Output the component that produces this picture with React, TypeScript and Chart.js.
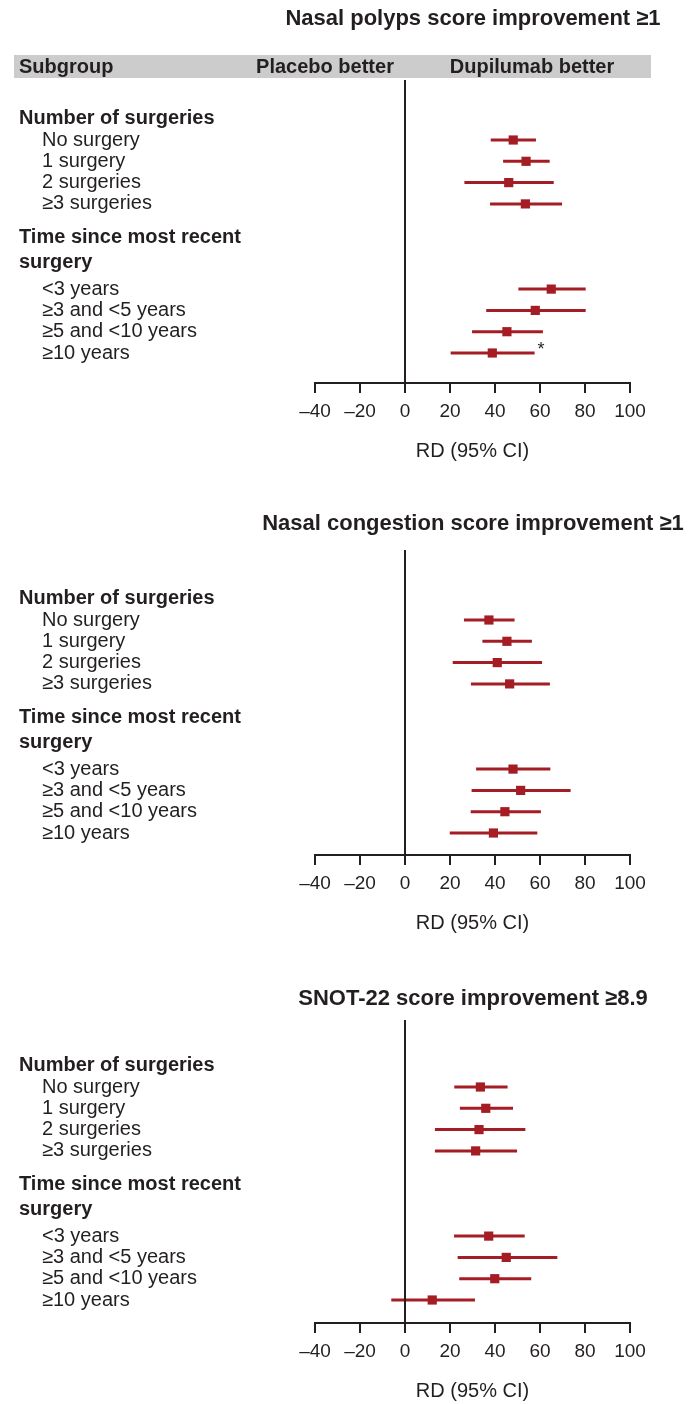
import React, { useEffect, useRef } from "react";
import { Chart, registerables } from "chart.js";

Chart.register(...registerables);

// ---------- data ----------
const groupHeaders = ["Number of surgeries", "Time since most recent", "surgery"];
const subgroupLabels = [
  "No surgery",
  "1 surgery",
  "2 surgeries",
  "≥3 surgeries",
  "<3 years",
  "≥3 and <5 years",
  "≥5 and <10 years",
  "≥10 years",
];
const xTicks = [-40, -20, 0, 20, 40, 60, 80, 100];

const panelTitles = [
  "Nasal polyps score improvement ≥1",
  "Nasal congestion score improvement ≥1",
  "SNOT-22 score improvement ≥8.9",
];

const polypsRD = [48.1, 53.8, 46.1, 53.5, 65.0, 57.9, 45.3, 38.8];
const polypsLower = [38.1, 43.6, 26.4, 37.8, 50.4, 36.1, 29.8, 20.3];
const polypsUpper = [58.2, 64.3, 66.1, 69.8, 80.3, 80.3, 61.3, 57.6];
const polypsNotes = ["", "", "", "", "", "", "", "*"];

const congestionRD = [37.3, 45.3, 41.0, 46.5, 48.0, 51.4, 44.4, 39.3];
const congestionLower = [26.2, 34.4, 21.2, 29.3, 31.6, 29.6, 29.2, 19.9];
const congestionUpper = [48.7, 56.4, 60.9, 64.4, 64.6, 73.6, 60.4, 58.8];
const congestionNotes = ["", "", "", "", "", "", "", ""];

const snotRD = [33.5, 35.9, 32.9, 31.4, 37.2, 45.0, 39.9, 12.1];
const snotLower = [21.9, 24.4, 13.3, 13.3, 21.8, 23.4, 24.1, -6.1];
const snotUpper = [45.6, 48.0, 53.5, 49.8, 53.2, 67.7, 56.1, 31.1];
const snotNotes = ["", "", "", "", "", "", "", ""];

const headerBar = ["Subgroup", "Placebo better", "Dupilumab better"];
const axisTitle = "RD (95% CI)";

// ---------- style / layout ----------
const FONT = '"Liberation Sans", Arial, Helvetica, sans-serif';
const TEXT = "#231f20";
const RED = "#a51d24";
const AXIS = "#231f20";
const W = 700;
const X_LEFT = 315;
const X_RIGHT = 630;
const ROW_H = 21.3;
const AXIS_BOX = 80;

type PanelLayout = {
  canvasTop: number;
  titleY: number;
  zeroTop: number;
  firstRowY: number;
  axisY: number;
  bar: boolean;
};

const layouts: PanelLayout[] = [
  { canvasTop: 0, titleY: 19, zeroTop: 80, firstRowY: 140, axisY: 383, bar: true },
  { canvasTop: 470, titleY: 524, zeroTop: 550, firstRowY: 620, axisY: 855, bar: false },
  { canvasTop: 940, titleY: 999, zeroTop: 1020, firstRowY: 1087, axisY: 1323, bar: false },
];

// row index of each subgroup (4 in the first group, gap for the two-line header, 4 in the second)
const rowIndex = subgroupLabels.map((_, i) => (i < 4 ? i : i + 3));
const headerRows = [-1.03, 4.6, 5.77];

type PanelData = {
  title: string;
  rd: number[];
  lo: number[];
  hi: number[];
  notes: string[];
};

const panels: PanelData[] = [
  { title: panelTitles[0], rd: polypsRD, lo: polypsLower, hi: polypsUpper, notes: polypsNotes },
  { title: panelTitles[1], rd: congestionRD, lo: congestionLower, hi: congestionUpper, notes: congestionNotes },
  { title: panelTitles[2], rd: snotRD, lo: snotLower, hi: snotUpper, notes: snotNotes },
];

function Panel({ data, layout }: { data: PanelData; layout: PanelLayout }) {
  const ref = useRef<HTMLCanvasElement | null>(null);
  const height = layout.axisY - layout.canvasTop + AXIS_BOX;

  useEffect(() => {
    if (!ref.current) return;
    const yMin = (layout.zeroTop - layout.firstRowY) / ROW_H;
    const yMax = (layout.axisY - layout.firstRowY) / ROW_H;

    const textPlugin = {
      id: "forestText",
      beforeDraw(chart: any) {
        const ctx = chart.ctx;
        ctx.save();
        if (layout.bar) {
          ctx.fillStyle = "#cccccc";
          ctx.fillRect(14, 55 - layout.canvasTop, 637, 23);
          ctx.fillStyle = TEXT;
          ctx.font = `bold 20px ${FONT}`;
          ctx.textBaseline = "middle";
          const by = 67 - layout.canvasTop;
          ctx.textAlign = "left";
          ctx.fillText(headerBar[0], 19, by);
          ctx.textAlign = "center";
          ctx.fillText(headerBar[1], 325, by);
          ctx.fillText(headerBar[2], 532, by);
        }
        ctx.restore();
      },
      afterDatasetsDraw(chart: any) {
        const ctx = chart.ctx;
        const xs = chart.scales.x;
        const ys = chart.scales.y;
        const area = chart.chartArea;
        ctx.save();
        // zero line
        const x0 = Math.round(xs.getPixelForValue(0));
        ctx.strokeStyle = AXIS;
        ctx.lineWidth = 2;
        ctx.beginPath();
        ctx.moveTo(x0, area.top);
        ctx.lineTo(x0, area.bottom);
        ctx.stroke();
        ctx.restore();
      },
      afterDraw(chart: any) {
        const ctx = chart.ctx;
        const xs = chart.scales.x;
        const ys = chart.scales.y;
        ctx.save();
        ctx.fillStyle = TEXT;
        ctx.textBaseline = "middle";
        // panel title
        ctx.font = `bold 22px ${FONT}`;
        ctx.textAlign = "center";
        ctx.fillText(data.title, 473, layout.titleY - layout.canvasTop);
        // group headers
        ctx.textAlign = "left";
        ctx.font = `bold 20px ${FONT}`;
        groupHeaders.forEach((h, i) => {
          ctx.fillText(h, 19, ys.getPixelForValue(headerRows[i]));
        });
        // subgroup labels
        ctx.font = `20px ${FONT}`;
        subgroupLabels.forEach((s, i) => {
          ctx.fillText(s, 42, ys.getPixelForValue(rowIndex[i]));
        });
        // notes
        ctx.font = `18px ${FONT}`;
        data.notes.forEach((n, i) => {
          if (!n) return;
          ctx.fillText(n, xs.getPixelForValue(data.hi[i]) + 3, ys.getPixelForValue(rowIndex[i]) - 3);
        });
        ctx.restore();
      },
    };

    const ciSets = data.rd.map((_, i) => ({
      type: "scatter" as const,
      showLine: true,
      data: [
        { x: data.lo[i], y: rowIndex[i] },
        { x: data.hi[i], y: rowIndex[i] },
      ],
      borderColor: RED,
      borderWidth: 3,
      pointRadius: 0,
      clip: false as any,
    }));

    const pointSet = {
      type: "scatter" as const,
      data: data.rd.map((v, i) => ({ x: v, y: rowIndex[i] })),
      pointStyle: "rect",
      pointRadius: 6.5,
      backgroundColor: RED,
      borderWidth: 0,
    };

    const chart = new Chart(ref.current, {
      type: "scatter",
      data: { datasets: [pointSet as any, ...ciSets] },
      options: {
        animation: false,
        responsive: false,
        events: [],
        layout: {
          padding: {
            left: X_LEFT,
            right: W - X_RIGHT,
            top: layout.zeroTop - layout.canvasTop,
            bottom: 0,
          },
        },
        plugins: {
          legend: { display: false },
          tooltip: { enabled: false },
          title: { display: false },
        },
        scales: {
          x: {
            type: "linear",
            position: "bottom",
            min: xTicks[0],
            max: xTicks[xTicks.length - 1],
            afterFit: (s: any) => {
              s.height = AXIS_BOX;
            },
            afterBuildTicks: (s: any) => {
              s.ticks = xTicks.map((v) => ({ value: v }));
            },
            ticks: {
              padding: 7,
              color: TEXT,
              font: { family: FONT, size: 19 },
              maxRotation: 0,
              autoSkip: false,
              callback: (v: any) => String(v).replace("-", "–"),
            },
            grid: {
              drawOnChartArea: false,
              drawTicks: true,
              tickLength: 10,
              color: AXIS,
              lineWidth: 2,
            },
            border: { display: true, color: AXIS, width: 2 },
            title: {
              display: true,
              text: axisTitle,
              color: TEXT,
              font: { family: FONT, size: 20 },
              padding: { top: 0, bottom: 0 },
            },
          },
          y: {
            type: "linear",
            display: false,
            reverse: true,
            min: yMin,
            max: yMax,
          },
        },
      } as any,
      plugins: [textPlugin],
    });
    return () => chart.destroy();
  }, [data, layout]);

  return (
    <canvas
      ref={ref}
      width={W}
      height={height}
      style={{ position: "absolute", left: 0, top: layout.canvasTop, width: W, height, display: "block" }}
    />
  );
}

export default function App() {
  return (
    <div style={{ position: "absolute", left: 0, top: 0, width: W, height: 1404, background: "#fff" }}>
      {panels.map((p, i) => (
        <Panel key={i} data={p} layout={layouts[i]} />
      ))}
    </div>
  );
}
